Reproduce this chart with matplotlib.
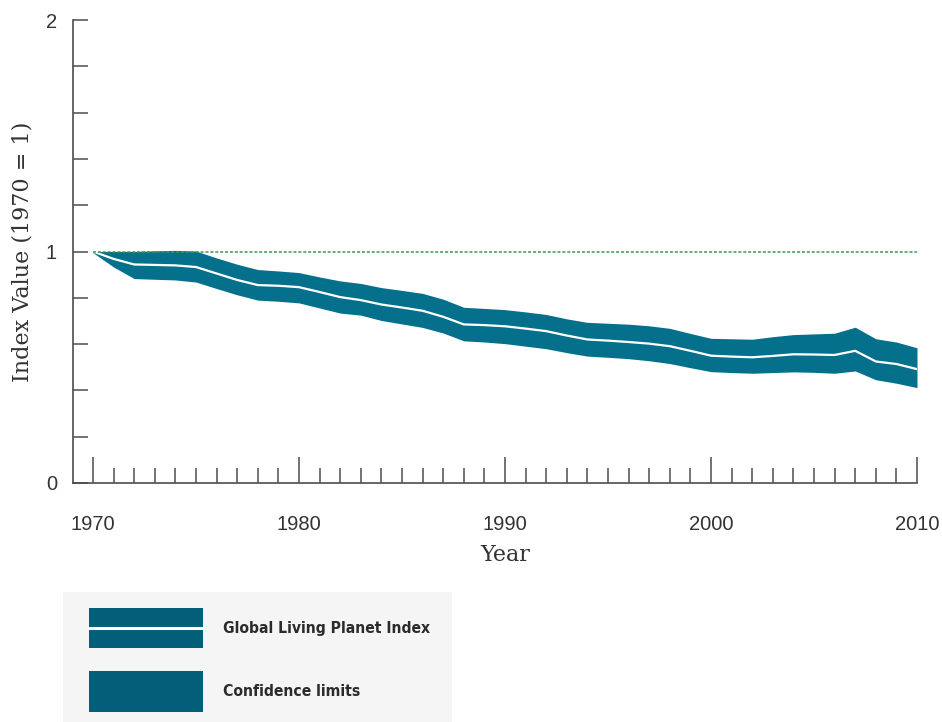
import numpy as np
import matplotlib.pyplot as plt
from matplotlib.patches import Rectangle
from matplotlib.ticker import MultipleLocator, FixedLocator

plt.rcParams['font.family'] = ['Liberation Sans', 'DejaVu Sans']

# Living Planet Index, 1970 = 1, with upper/lower confidence limits
years = np.arange(1970, 2011)

lpi = [1.000, 0.968, 0.944, 0.942, 0.940, 0.933, 0.905, 0.877, 0.855, 0.852,
       0.846, 0.825, 0.803, 0.790, 0.771, 0.758, 0.744, 0.718, 0.685, 0.682,
       0.677, 0.667, 0.656, 0.637, 0.620, 0.615, 0.609, 0.602, 0.591, 0.571,
       0.550, 0.546, 0.543, 0.549, 0.556, 0.555, 0.553, 0.571, 0.525, 0.514,
       0.492]
upper = [1.000, 1.000, 1.000, 1.003, 1.005, 1.002, 0.972, 0.945, 0.922, 0.916,
         0.909, 0.890, 0.873, 0.862, 0.844, 0.832, 0.819, 0.794, 0.759, 0.754,
         0.749, 0.739, 0.728, 0.709, 0.694, 0.690, 0.686, 0.679, 0.668, 0.646,
         0.625, 0.623, 0.621, 0.632, 0.641, 0.644, 0.647, 0.673, 0.623, 0.609,
         0.584]
lower = [0.995, 0.933, 0.883, 0.880, 0.877, 0.868, 0.840, 0.813, 0.790, 0.785,
         0.778, 0.756, 0.734, 0.725, 0.702, 0.687, 0.672, 0.648, 0.614, 0.609,
         0.602, 0.591, 0.580, 0.563, 0.548, 0.543, 0.537, 0.528, 0.516, 0.498,
         0.481, 0.477, 0.474, 0.477, 0.480, 0.478, 0.474, 0.484, 0.446, 0.431,
         0.412]

key_labels = ['Global Living Planet Index', 'Confidence limits']

band_color = '#04708c'
swatch_color = '#035f79'
axis_color = '#4d4d4d'
text_color = '#333333'

fig = plt.figure(figsize=(9.42, 7.22), dpi=100)
ax = fig.add_axes([73 / 942, 1 - 483 / 722, 844 / 942, 463 / 722])

ax.fill_between(years, lower, upper, color=band_color, lw=0, zorder=2)
ax.plot(years, lpi, color='white', lw=1.6, zorder=3)
ax.hlines(1, years[0], years[-1], colors='#3d9a4b', linestyles=(0, (2, 1.2)),
          lw=1.1, zorder=4)

ax.set_xlim(1969.03, 2010)
ax.set_ylim(0, 2)

for side in ('top', 'right'):
    ax.spines[side].set_visible(False)
for side in ('left', 'bottom'):
    ax.spines[side].set_color(axis_color)
    ax.spines[side].set_linewidth(1.2)

ax.xaxis.set_major_locator(MultipleLocator(10))
ax.xaxis.set_minor_locator(MultipleLocator(1))
ax.yaxis.set_major_locator(FixedLocator([0, 1, 2]))
ax.yaxis.set_minor_locator(MultipleLocator(0.2))

ax.tick_params(axis='x', which='major', direction='in', length=19, width=1.1,
               color=axis_color, pad=23, labelsize=14.5, labelcolor=text_color)
ax.tick_params(axis='x', which='minor', direction='in', length=11, width=1.1,
               color=axis_color)
ax.tick_params(axis='y', which='both', direction='in', length=11, width=1.1,
               color=axis_color, pad=11.5, labelsize=14.5, labelcolor=text_color)

ax.set_xlabel('Year', family='DejaVu Serif', fontsize=16, color=text_color)
ax.set_ylabel('Index Value (1970 = 1)', family='DejaVu Serif', fontsize=16,
              color=text_color)
ax.xaxis.set_label_coords(0.512, -0.132)
ax.yaxis.set_label_coords(-0.047, 0.5)

# key panel under the chart
lax = fig.add_axes([63 / 942, 0, 389 / 942, 130 / 722])
lax.set_xlim(0, 389)
lax.set_ylim(130, 0)
lax.set_facecolor('#f5f5f5')
lax.set_xticks([])
lax.set_yticks([])
for sp in lax.spines.values():
    sp.set_visible(False)

lax.add_patch(Rectangle((26, 16), 114, 40, color=swatch_color, lw=0))
lax.plot([26, 140], [36, 36], color='white', lw=2.2)
lax.add_patch(Rectangle((26, 79), 114, 41, color=swatch_color, lw=0))

key_texts = []
for label, yc in zip(key_labels, [37, 100]):
    key_texts.append(lax.text(160, yc, label, va='center', ha='left',
                              family='DejaVu Sans', fontstretch='condensed',
                              fontsize=16, fontweight='bold', color='#2b2b2b'))

# shrink the key text so the long label ends where the panel text column ends
renderer = fig.canvas.get_renderer()
width = key_texts[0].get_window_extent(renderer).width
size = 16 * 208 / width
for t in key_texts:
    t.set_fontsize(size)

fig.savefig('out.png', dpi=100)
